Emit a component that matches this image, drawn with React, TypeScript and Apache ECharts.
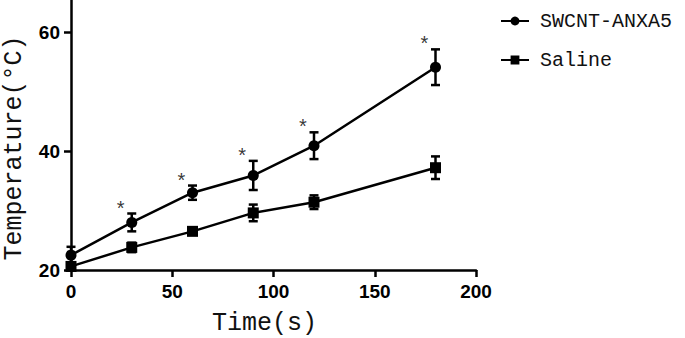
import React, { useEffect, useRef } from "react";
import * as echarts from "echarts";

const times = [0, 30, 60, 90, 120, 180];
const swcntMean = [22.5, 28.0, 33.0, 35.9, 40.9, 54.1];
const swcntErr = [1.4, 1.5, 1.2, 2.45, 2.25, 3.0];
const salineMean = [20.6, 23.8, 26.5, 29.6, 31.4, 37.2];
const salineErr = [0.6, 0.8, 0.5, 1.4, 1.15, 1.9];
const significant = [false, true, true, true, true, true];
const yTicks = [20, 40, 60];
const xTicks = [0, 50, 100, 150, 200];

const MONO = "'Liberation Mono', 'DejaVu Sans Mono', monospace";
const SANS = "'Liberation Sans', Arial, sans-serif";

export default function App() {
  const ref = useRef<HTMLDivElement>(null);
  useEffect(() => {
    if (!ref.current) return;
    document.body.style.margin = "0";
    const chart = echarts.init(ref.current, null, { renderer: "svg" });
    const pts = (m: number[]) => times.map((t, i) => [t, m[i]]);
    const errData = (m: number[], e: number[]) =>
      times.map((t, i) => [t, m[i] - e[i], m[i] + e[i]]);
    const errSeries = (name: string, m: number[], e: number[]) => ({
      type: "custom",
      name: name + "-err",
      z: 1,
      silent: true,
      data: errData(m, e),
      renderItem: (params: any, api: any) => {
        const x = api.value(0);
        const lo = api.coord([x, api.value(1)]);
        const hi = api.coord([x, api.value(2)]);
        const w = 4.5;
        const style = { stroke: "#000", lineWidth: 2.5, fill: "none" };
        return {
          type: "group",
          children: [
            { type: "line", shape: { x1: lo[0], y1: lo[1], x2: hi[0], y2: hi[1] }, style },
            { type: "line", shape: { x1: hi[0] - w, y1: hi[1], x2: hi[0] + w, y2: hi[1] }, style },
            { type: "line", shape: { x1: lo[0] - w, y1: lo[1], x2: lo[0] + w, y2: lo[1] }, style },
          ],
        };
      },
    });
    const starData = times
      .map((t, i) => (significant[i] ? [t, swcntMean[i] + swcntErr[i]] : null))
      .filter((d) => d !== null);

    chart.setOption({
      animation: false,
      grid: { left: 71, right: 209, top: 0, bottom: 68, containLabel: false, outerBoundsMode: "none" },
      legend: {
        orient: "vertical",
        left: 495,
        top: 6,
        itemWidth: 28,
        itemHeight: 11,
        itemGap: 19,
        data: ["SWCNT-ANXA5", "Saline"],
        textStyle: { fontFamily: MONO, fontSize: 20, color: "#111", padding: [0, 0, 0, 6] },
      },
      xAxis: {
        type: "value",
        min: 0,
        max: 200,
        interval: 50,
        name: "Time(s)",
        nameLocation: "middle",
        nameGap: 41,
        nameTextStyle: { fontFamily: MONO, fontSize: 25, color: "#111", padding: [0, 18, 0, 0] },
        axisLine: { show: true, lineStyle: { color: "#000", width: 2.5 } },
        axisTick: { show: true, length: 7, lineStyle: { color: "#000", width: 2.5 }, customValues: xTicks },
        axisLabel: {
          fontFamily: SANS,
          fontWeight: "bold",
          fontSize: 19,
          color: "#000",
          margin: 12,
          customValues: xTicks,
        },
        splitLine: { show: false },
      },
      yAxis: {
        type: "value",
        min: 20,
        max: 65.4,
        interval: 20,
        name: "Temperature(°C)",
        nameLocation: "middle",
        nameGap: 44,
        nameTextStyle: { fontFamily: MONO, fontSize: 25, color: "#111", padding: [0, 26, 0, 0] },
        axisLine: { show: true, onZero: false, lineStyle: { color: "#000", width: 2.5 } },
        axisTick: { show: true, length: 7, lineStyle: { color: "#000", width: 2.5 }, customValues: yTicks },
        axisLabel: {
          fontFamily: SANS,
          fontWeight: "bold",
          fontSize: 19,
          color: "#000",
          margin: 11,
          customValues: yTicks,
        },
        splitLine: { show: false },
      },
      series: [
        errSeries("SWCNT-ANXA5", swcntMean, swcntErr),
        errSeries("Saline", salineMean, salineErr),
        {
          type: "line",
          name: "SWCNT-ANXA5",
          data: pts(swcntMean),
          symbol: "circle",
          symbolSize: 11,
          z: 3,
          itemStyle: { color: "#000" },
          lineStyle: { color: "#000", width: 2.5 },
        },
        {
          type: "line",
          name: "Saline",
          data: pts(salineMean),
          symbol: "rect",
          symbolSize: 11,
          z: 3,
          itemStyle: { color: "#000" },
          lineStyle: { color: "#000", width: 2.5 },
        },
        {
          type: "scatter",
          name: "sig",
          data: starData,
          symbolSize: 0,
          silent: true,
          label: {
            show: true,
            formatter: "*",
            position: "top",
            distance: 0,
            offset: [-11, 4],
            fontFamily: SANS,
            fontSize: 20,
            color: "#000",
          },
        },
      ],
    });
    return () => chart.dispose();
  }, []);
  return <div ref={ref} style={{ width: 685, height: 338 }} />;
}
